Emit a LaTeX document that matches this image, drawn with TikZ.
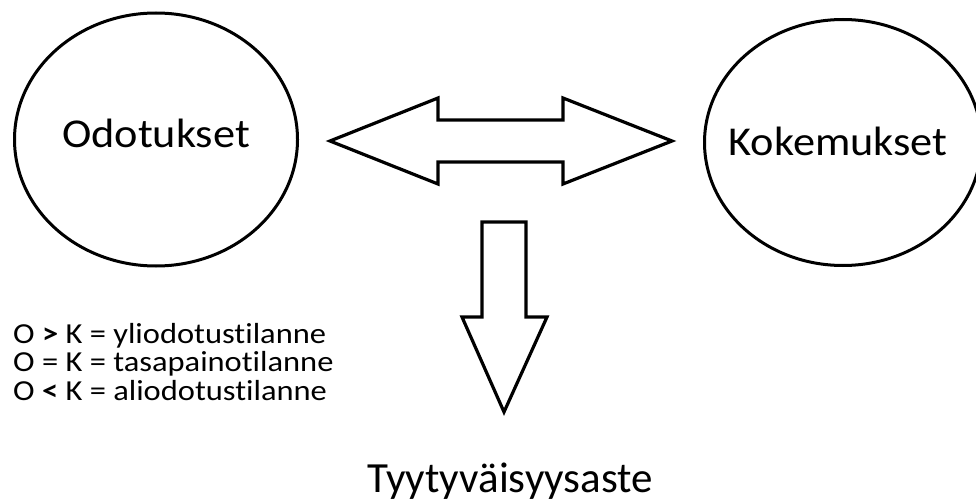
\documentclass[tikz,border=0pt]{standalone}
\usepackage{fontspec}
\setmainfont[Ligatures=NoCommon]{Carlito}
\newfontfamily\lblfont[FakeStretch=1.08,Ligatures=NoCommon]{Carlito}
\newfontfamily\lstfont[FakeStretch=1.12,Ligatures=NoCommon]{Carlito}
\usetikzlibrary{shapes.geometric}
\begin{document}
\begin{tikzpicture}[x=1pt,y=-1pt,
  bubble/.style={draw=black,line width=3pt,ellipse,inner sep=0pt},
  bigarrow/.style={draw=black,line width=3.2pt,line join=miter,fill=white},
  lbl/.style={inner sep=0pt,anchor=base,font=\lblfont\fontsize{41}{48}\selectfont},
  lstline/.style={inner sep=0pt,anchor=base west,font=\lstfont\fontsize{29}{31}\selectfont},
  bottomlbl/.style={inner sep=0pt,anchor=base west,font=\fontsize{43}{50}\selectfont}]
\useasboundingbox (0,0) rectangle (976,500);
\fill[white] (0,0) rectangle (976,500);
% ellipses
\node[bubble,minimum width=283pt,minimum height=253pt] (odo) at (156,139.5) {};
\node[bubble,minimum width=277pt,minimum height=246pt] (koke) at (843,142.5) {};
\node[lbl] (odotxt) at (156,147) {Odotukset};
\node[lbl] (koktxt) at (838,155) {Kokemukset};
% double arrow
\draw[bigarrow] (330,141) -- (438,98) -- (438,120) -- (563,120) -- (563,98)
  -- (672,141) -- (563,184) -- (563,162) -- (438,162) -- (438,184) -- cycle;
% down arrow
\draw[bigarrow] (482,222) -- (526,222) -- (526,317) -- (547,317) -- (504,412)
  -- (462,317) -- (482,317) -- cycle;
% list
\node[lstline] (l1) at (13,343) {O \textbf{>} K = yliodotustilanne};
\node[lstline] (l2) at (13,371.5) {O = K = tasapainotilanne};
\node[lstline] (l3) at (13,400) {O \textbf{<} K = aliodotustilanne};
% result
\node[bottomlbl] (res) at (367,492) {Tyytyväisyysaste};
\end{tikzpicture}
\end{document}
